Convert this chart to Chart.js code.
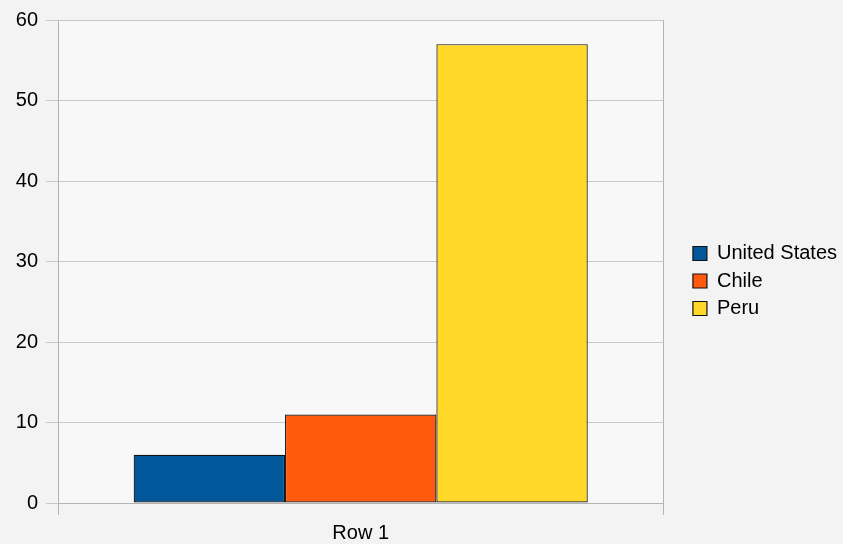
<!DOCTYPE html>
<html>
<head>
<meta charset="utf-8">
<script src="https://cdn.jsdelivr.net/npm/chart.js@4/dist/chart.umd.min.js"></script>
<style>
  html,body{margin:0;padding:0;background:#f3f3f3;}
  #wrap{width:843px;height:544px;position:relative;}
</style>
</head>
<body>
<div id="wrap"><canvas id="c" width="843" height="544"></canvas></div>
<script>
const categories = ['Row 1'];
const seriesNames = ['United States', 'Chile', 'Peru'];
const unitedStates = [6];
const chile = [11];
const peru = [57];
const yTicks = [0, 10, 20, 30, 40, 50, 60];

const colors = ['#02579a', '#ff5a0e', '#ffd828'];
const values = [unitedStates, chile, peru];

const bgPlugin = {
  id: 'bg',
  beforeDraw(chart) {
    const ctx = chart.ctx;
    ctx.save();
    ctx.fillStyle = '#f3f3f3';
    ctx.fillRect(0, 0, chart.width, chart.height);
    const a = chart.chartArea;
    ctx.fillStyle = '#f8f8f8';
    ctx.fillRect(a.left, a.top, a.right - a.left, a.bottom - a.top);
    ctx.restore();
  }
};
const legendShift = {
  id: 'legendShift',
  afterLayout(chart) {
    const lg = chart.legend;
    if (!lg) return;
    const dx = 22;
    lg.left += dx; lg.right += dx;
  }
};

new Chart(document.getElementById('c'), {
  type: 'bar',
  data: {
    labels: categories,
    datasets: seriesNames.map((n, i) => ({
      label: n,
      data: values[i],
      backgroundColor: colors[i],
      borderColor: '#111111',
      borderWidth: 1.2,
      borderSkipped: false,
      categoryPercentage: 0.75,
      barPercentage: 1.0
    }))
  },
  options: {
    responsive: false,
    animation: false,
    layout: { padding: { top: 18, right: 18, bottom: 0, left: 0 } },
    plugins: {
      tooltip: { enabled: false },
      legend: {
        position: 'right',
        labels: {
          boxWidth: 14,
          boxHeight: 14,
          padding: 7.5,
          color: '#000',
          font: { family: 'Liberation Sans', size: 20 }
        }
      }
    },
    scales: {
      x: {
        offset: true,
        grid: { display: true, offset: true, color: '#b3b3b3', tickLength: 12, drawTicks: true },
        border: { display: true, color: '#b3b3b3' },
        ticks: { color: '#000', padding: 6, font: { family: 'Liberation Sans', size: 20 } },
        afterFit(s) { s.height = 41; }
      },
      y: {
        min: 0, max: 60,
        afterBuildTicks(s) { s.ticks = yTicks.map(v => ({ value: v })); },
        grid: { color: '#c8c8c8', tickLength: 12 },
        border: { display: true, color: '#b3b3b3' },
        ticks: { color: '#000', padding: 8, font: { family: 'Liberation Sans', size: 20 } },
        afterFit(s) { s.width = 58; }
      }
    }
  },
  plugins: [bgPlugin, legendShift]
});
</script>
</body>
</html>
